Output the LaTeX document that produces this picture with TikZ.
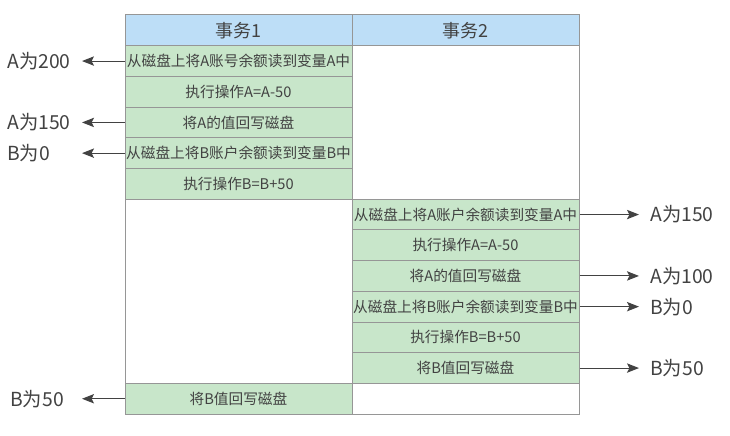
\documentclass[tikz,border=0pt]{standalone}
\usepackage{fontspec}
\setmainfont{Noto Sans CJK SC}
\usetikzlibrary{arrows.meta}

\definecolor{headblue}{RGB}{189,222,247}
\definecolor{stepgreen}{RGB}{200,230,202}
\definecolor{cellline}{RGB}{150,150,150}
\definecolor{inkgray}{RGB}{66,66,66}

\tikzset{
  cell/.style={draw=cellline, line width=0.75pt, minimum width=170.25pt, minimum height=23.03pt, inner sep=0pt, text=inkgray, font=\fontsize{11}{12}\selectfont},
  head/.style={cell, fill=headblue, font=\fontsize{13.5}{15}\selectfont},
  stepcell/.style={cell, fill=stepgreen},
  blank/.style={cell, fill=white},
  val/.style={anchor=west, inner sep=0pt, text=inkgray, font=\fontsize{14.5}{16}\selectfont},
  flow/.style={draw=inkgray, line width=0.8pt, -{Stealth[length=9pt, width=7pt, inset=1.8pt]}}
}

\begin{document}
\begin{tikzpicture}[x=0.75pt,y=0.75pt,yscale=-1,xscale=1]
\useasboundingbox (0,0) rectangle (730,435);

% header row
\node[head] (h1) at (238.5,30.35) {事务1};
\node[head] (h2) at (465.5,30.35) {事务2};

% blank cells
\node[blank, minimum height=115.13pt] (e2) at (465.5,122.45) {};
\node[blank, minimum height=138.15pt] (e1) at (238.5,291.3) {};
\node[blank] (e3) at (465.5,398.75) {};

% steps of transaction 1
\node[stepcell] (a1) at (238.5,61.05) {从磁盘上将A账号余额读到变量A中};
\node[stepcell] (a2) at (238.5,91.75) {执行操作A=A-50};
\node[stepcell] (a3) at (238.5,122.45) {将A的值回写磁盘};
\node[stepcell] (a4) at (238.5,153.15) {从磁盘上将B账户余额读到变量B中};
\node[stepcell] (a5) at (238.5,183.85) {执行操作B=B+50};
\node[stepcell] (a6) at (238.5,398.75) {将B值回写磁盘};

% steps of transaction 2
\node[stepcell] (b1) at (465.5,214.55) {从磁盘上将A账户余额读到变量A中};
\node[stepcell] (b2) at (465.5,245.25) {执行操作A=A-50};
\node[stepcell] (b3) at (465.5,275.95) {将A的值回写磁盘};
\node[stepcell] (b4) at (465.5,306.65) {从磁盘上将B账户余额读到变量B中};
\node[stepcell] (b5) at (465.5,337.35) {执行操作B=B+50};
\node[stepcell] (b6) at (465.5,368.05) {将B值回写磁盘};

% values on the left
\node[val] (va1) at (7,61.05) {A为200};
\node[val] (va3) at (7,122.45) {A为150};
\node[val] (va4) at (7,153.15) {B为0};
\node[val] (va6) at (10,398.75) {B为50};
\coordinate (ta1) at (82,61.05);
\coordinate (ta3) at (82,122.45);
\coordinate (ta4) at (82,153.15);
\coordinate (ta6) at (82,398.75);
\draw[flow] (a1.west) -- (ta1);
\draw[flow] (a3.west) -- (ta3);
\draw[flow] (a4.west) -- (ta4);
\draw[flow] (a6.west) -- (ta6);

% values on the right
\node[val] (vb1) at (650,214.55) {A为150};
\node[val] (vb3) at (650,275.95) {A为100};
\node[val] (vb4) at (650,306.65) {B为0};
\node[val] (vb6) at (650,368.05) {B为50};
\coordinate (tb1) at (639,214.55);
\coordinate (tb3) at (639,275.95);
\coordinate (tb4) at (639,306.65);
\coordinate (tb6) at (639,368.05);
\draw[flow] (b1.east) -- (tb1);
\draw[flow] (b3.east) -- (tb3);
\draw[flow] (b4.east) -- (tb4);
\draw[flow] (b6.east) -- (tb6);

\end{tikzpicture}
\end{document}
